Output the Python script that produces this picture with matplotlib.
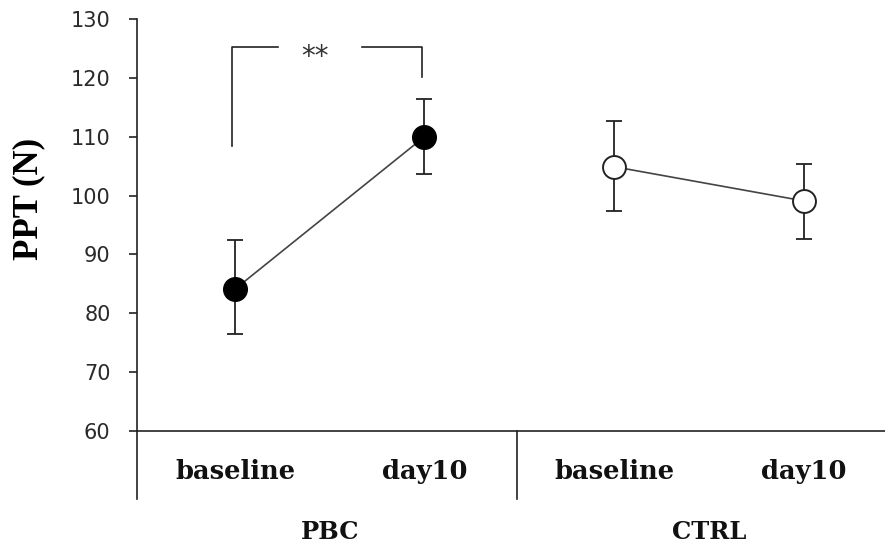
import matplotlib
matplotlib.use("Agg")
import matplotlib.pyplot as plt
import matplotlib.transforms as mtransforms

conditions = ["baseline", "day10"]
groups = ["PBC", "CTRL"]
pbc_mean = [84.1, 110.0]
pbc_err_low = [7.6, 6.4]
pbc_err_high = [8.3, 6.4]
ctrl_mean = [104.9, 99.1]
ctrl_err_low = [7.6, 6.5]
ctrl_err_high = [7.8, 6.3]
yticks = [60, 70, 80, 90, 100, 110, 120, 130]

fig = plt.figure(figsize=(8.85, 5.47), dpi=100)
ax = fig.add_axes([0.1548, 0.2121, 0.8452, 0.7532])

dark = '#222222'
x_pbc = [0, 1]
x_ctrl = [2, 3]

ax.errorbar(x_pbc, pbc_mean, yerr=[pbc_err_low, pbc_err_high], fmt='none',
            ecolor=dark, elinewidth=1.3, capsize=6, capthick=1.3, zorder=2)
ax.errorbar(x_ctrl, ctrl_mean, yerr=[ctrl_err_low, ctrl_err_high], fmt='none',
            ecolor=dark, elinewidth=1.3, capsize=6, capthick=1.3, zorder=2)
ax.plot(x_pbc, pbc_mean, color='#444444', lw=1.2, zorder=3)
ax.plot(x_ctrl, ctrl_mean, color='#444444', lw=1.2, zorder=3)
ax.plot(x_pbc, pbc_mean, 'o', ms=17, mfc='black', mec='black', zorder=4)
ax.plot(x_ctrl, ctrl_mean, 'o', ms=16.5, mfc='white', mec=dark, mew=1.4, zorder=4)

# significance bracket
ax.plot([-0.015, -0.015, 0.227], [108.4, 125.3, 125.3], color=dark, lw=1.2)
ax.plot([0.669, 0.985, 0.985], [125.3, 125.3, 120.2], color=dark, lw=1.2)
ax.text(0.42, 123.6, "**", ha='center', va='center', fontsize=20,
        color='#333333')

ax.set_xlim(-0.517, 3.43)
ax.set_ylim(60, 130)
ax.set_yticks(yticks)
ax.set_xticks([])
ax.tick_params(axis='y', direction='out', length=6, width=1.2, pad=13,
               labelsize=15, labelcolor='#2a2a2a', color=dark)
for lab in ax.get_yticklabels():
    lab.set_fontfamily('DejaVu Sans')

for s in ['top', 'right']:
    ax.spines[s].set_visible(False)
ax.spines['left'].set_color(dark)
ax.spines['bottom'].set_color(dark)
ax.spines['left'].set_linewidth(1.2)
ax.spines['bottom'].set_linewidth(1.2)

trans = mtransforms.blended_transform_factory(ax.transData, ax.transAxes)
low = -0.165
ax.plot([-0.517, -0.517], [0, low], transform=trans, color=dark, lw=1.2, clip_on=False)
ax.plot([1.49, 1.49], [0, low], transform=trans, color=dark, lw=1.2, clip_on=False)

for i, c in enumerate(conditions * 2):
    ax.text(i, -0.099, c, transform=trans, ha='center', va='center',
            fontsize=18.5, fontweight='bold', family='DejaVu Serif', color='#111111')
for g, gx in zip(groups, [0.5, 2.5]):
    ax.text(gx, -0.245, g, transform=trans, ha='center', va='center',
            fontsize=17.5, fontweight='bold', family='DejaVu Serif', color='#111111')

fig.text(0.032, 0.637, "PPT (N)", rotation=90, ha='center', va='center',
         fontsize=25, fontweight='bold', family='Liberation Serif', color='black')

fig.savefig("out.png", dpi=100)
